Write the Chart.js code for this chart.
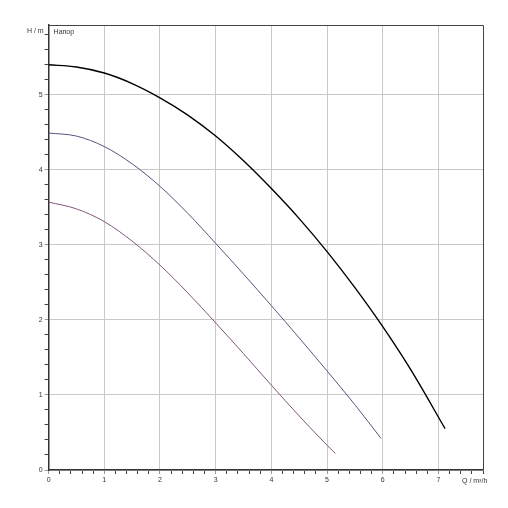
<!DOCTYPE html>
<html>
<head>
<meta charset="utf-8">
<script src="https://cdn.jsdelivr.net/npm/chart.js@4.4.1/dist/chart.umd.min.js"></script>
<style>
  body { margin: 0; background: #fff; }
  canvas { display: block; }
</style>
</head>
<body>
<canvas id="myChart" width="508" height="508"></canvas>
<script>
// curves: Q in m3/h, H in m
const q1 = [0, 0.5, 1, 1.5, 2, 2.5, 3, 3.5, 4, 4.5, 5, 5.5, 6, 6.5, 7.12];
const h1 = [5.40, 5.37, 5.29, 5.15, 4.96, 4.73, 4.45, 4.12, 3.75, 3.35, 2.91, 2.43, 1.91, 1.34, 0.55];

const q2 = [0, 0.5, 1, 1.5, 2, 2.5, 3, 3.5, 4, 4.5, 5, 5.5, 5.97];
const h2 = [4.49, 4.45, 4.31, 4.08, 3.78, 3.42, 3.02, 2.61, 2.19, 1.76, 1.32, 0.87, 0.42];

const q3 = [0, 0.5, 1, 1.5, 2, 2.5, 3, 3.5, 4, 4.5, 5, 5.15];
const h3 = [3.57, 3.48, 3.31, 3.05, 2.73, 2.36, 1.96, 1.55, 1.13, 0.72, 0.33, 0.22];

const xTicks = [0, 1, 2, 3, 4, 5, 6, 7];
const yTicks = [0, 1, 2, 3, 4, 5];
const xMax = 7.8;
const yMax = 5.93;

const pts = (xs, ys) => xs.map((x, i) => ({ x: x, y: ys[i] }));
const isMajor = v => Math.abs(v - Math.round(v)) < 1e-6;

function minorTicks(max) {
  const t = [];
  for (let i = 0; i * 0.2 <= max + 1e-6; i++) t.push({ value: +(i * 0.2).toFixed(1) });
  return t;
}

const frame = {
  id: 'frame',
  afterDraw(chart) {
    const c = chart.ctx, a = chart.chartArea;
    c.save();
    c.strokeStyle = '#444';
    c.lineWidth = 1;
    c.beginPath();
    c.moveTo(a.left, a.top + 0.5);
    c.lineTo(a.right + 0.5, a.top + 0.5);
    c.lineTo(a.right + 0.5, a.bottom);
    c.stroke();
    c.fillStyle = '#333';
    c.font = '7px "Liberation Sans", Arial, sans-serif';
    c.textBaseline = 'middle';
    c.textAlign = 'right';
    c.fillText('H / m', a.left - 5, 31);
    c.textAlign = 'left';
    c.fillText('Напор', a.left + 5, 32);
    c.fillText('Q / m³/h', a.right - 21, 481);
    c.restore();
  }
};

const ctx = document.getElementById('myChart').getContext('2d');
const tickFont = { family: '"Liberation Sans", Arial, sans-serif', size: 7 };

const myChart = new Chart(ctx, {
  type: 'line',
  data: {
    datasets: [
      { data: pts(q1, h1), borderColor: '#000000', borderWidth: 1.4 },
      { data: pts(q2, h2), borderColor: '#55557f', borderWidth: 1 },
      { data: pts(q3, h3), borderColor: '#80567f', borderWidth: 1 }
    ]
  },
  options: {
    responsive: false,
    animation: false,
    events: [],
    layout: { padding: { top: 25, right: 25, left: 0, bottom: 0 } },
    elements: {
      point: { radius: 0 },
      line: { cubicInterpolationMode: 'monotone', fill: false }
    },
    plugins: { legend: { display: false }, tooltip: { enabled: false } },
    scales: {
      x: {
        type: 'linear',
        min: 0,
        max: xMax,
        afterBuildTicks: s => { s.ticks = minorTicks(xMax); },
        afterFit: s => { s.height = 38; },
        border: { display: true, color: '#333', width: 1.5 },
        grid: {
          color: c => isMajor(c.tick.value) ? '#c9c9c9' : 'rgba(0,0,0,0)',
          tickColor: c => isMajor(c.tick.value) ? '#999' : '#444',
          tickLength: 4
        },
        ticks: {
          autoSkip: false,
          maxRotation: 0,
          padding: 2,
          color: '#333',
          font: tickFont,
          callback: v => (isMajor(v) && xTicks.includes(Math.round(v))) ? String(Math.round(v)) : ''
        }
      },
      y: {
        type: 'linear',
        min: 0,
        max: yMax,
        afterBuildTicks: s => { s.ticks = minorTicks(yMax); },
        afterFit: s => { s.width = 48.6; },
        border: { display: true, color: '#333', width: 1.5 },
        grid: {
          color: c => isMajor(c.tick.value) ? '#c9c9c9' : 'rgba(0,0,0,0)',
          tickColor: c => isMajor(c.tick.value) ? '#999' : '#444',
          tickLength: 4
        },
        ticks: {
          autoSkip: false,
          padding: 2,
          color: '#333',
          font: tickFont,
          callback: v => (isMajor(v) && yTicks.includes(Math.round(v))) ? String(Math.round(v)) : ''
        }
      }
    }
  },
  plugins: [frame]
});
</script>
</body>
</html>
